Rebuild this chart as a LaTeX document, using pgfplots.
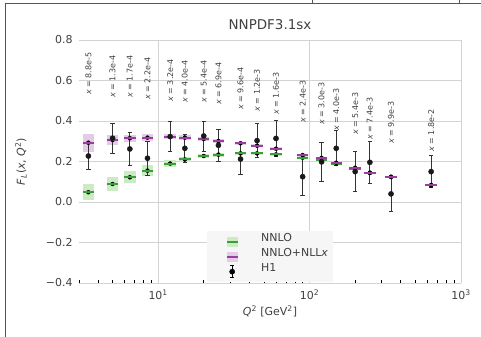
\documentclass[border=0pt]{standalone}
\usepackage{pgfplots}
\usepackage{pgfplotstable}
\pgfplotsset{compat=1.18}
\usepackage{fontspec}
\setmainfont{DejaVu Sans}
\definecolor{lgreen}{HTML}{3A9E3A}
\definecolor{bgreen}{HTML}{CBEBC3}
\definecolor{lpurple}{HTML}{9A3D9F}
\definecolor{bpurple}{HTML}{E3CCE6}
\definecolor{txt}{HTML}{404040}
\definecolor{gridc}{HTML}{D3D3D3}
\definecolor{legbg}{HTML}{F6F6F6}
\definecolor{framec}{HTML}{555555}

\pgfplotstableread{
q    h     he    n     ne    g     ge
3.46 0.227 0.067 0.293 0.044 0.048 0.040
5.0  0.315 0.075 0.306 0.027 0.089 0.035
6.5  0.262 0.080 0.315 0.017 0.122 0.029
8.5  0.216 0.083 0.318 0.016 0.155 0.027
12   0.323 0.075 0.322 0.012 0.190 0.019
15   0.265 0.071 0.318 0.012 0.210 0.014
20   0.326 0.074 0.311 0.010 0.227 0.010
25   0.280 0.078 0.301 0.010 0.234 0.010
35   0.212 0.078 0.290 0.008 0.240 0.008
45   0.303 0.085 0.278 0.008 0.240 0.008
60   0.314 0.089 0.263 0.007 0.235 0.007
90   0.125 0.095 0.232 0.006 0.219 0.006
120  0.198 0.098 0.218 0.006 0.205 0.006
150  0.265 0.086 0.194 0.005 0.188 0.005
200  0.150 0.099 0.169 0.005 0.163 0.005
250  0.196 0.103 0.145 0.004 0.143 0.004
345  0.040 0.088 0.125 0.004 0.123 0.004
635  0.150 0.080 0.084 0.004 0.082 0.004
}\data

\pgfplotsset{bandleg/.style 2 args={legend image code/.code={
  \path[draw=none, fill=none] (0bp,0bp) -- (49bp,0bp);
  \draw[overlay, #1, line width=11bp] (22bp,-5bp) -- (22bp,5bp);
  \draw[overlay, #2, line width=2bp] (16.5bp,0bp) -- (27.5bp,0bp);}}}

\begin{document}
\begin{tikzpicture}
\begin{axis}[
  at={(79bp,54bp)}, anchor=south west,
  scale only axis, width=382bp, height=243bp,
  xmode=log, xmin=3, xmax=1000, ymin=-0.4, ymax=0.8,
  xtick={10,100,1000},
  xticklabels={10\textsuperscript{1},10\textsuperscript{2},10\textsuperscript{3}},
  minor xtick={3,4,5,6,7,8,9,20,30,40,50,60,70,80,90,200,300,400,500,600,700,800,900},
  ytick={-0.4,-0.2,0,0.2,0.4,0.6,0.8},
  yticklabels={−0.4,−0.2,0.0,0.2,0.4,0.6,0.8},
  grid=major, grid style={gridc, line width=0.9bp},
  axis line style={draw=none},
  tick align=inside, xtick pos=bottom,
  major tick length=0bp, minor tick length=3bp,
  xtick style={black, line width=0.8bp},
  ytick style={draw=none},
  tick label style={font=\fontsize{11}{13}\selectfont, text=txt},
  yticklabel style={xshift=-3bp},
  xticklabel style={yshift=-3bp},
  title={NNPDF3.1sx},
  title style={font=\fontsize{13.5}{15}\selectfont, text=txt, at={(axis description cs:0.5,1.064)}, anchor=center, yshift=-6pt},
  xlabel={\textit{Q}\textsuperscript{2} [GeV\textsuperscript{2}]},
  xlabel style={font=\fontsize{11}{13}\selectfont, text=txt, at={(axis description cs:0.5,-0.115)}, anchor=center},
  ylabel={\textit{F}\textsubscript{\textit{L}}(\textit{x}, \textit{Q}\textsuperscript{2})},
  ylabel style={font=\fontsize{11}{13}\selectfont, text=txt, at={(axis description cs:-0.152,0.5)}, anchor=center},
  legend style={at={(axis description cs:0.335,0.214)}, anchor=north west,
    fill=legbg, draw=none, font=\fontsize{11}{13}\selectfont, text=txt,
    inner xsep=3bp, inner ysep=3bp, row sep=0bp,
    nodes={inner ysep=1bp, text height=6bp, text depth=7bp}},
  legend cell align=left,
]
\addlegendimage{bandleg={bgreen}{lgreen}}
\addlegendentry{NNLO}
\addlegendimage{bandleg={bpurple}{lpurple}}
\addlegendentry{NNLO+NLL\textit{x}}
\addlegendimage{legend image code/.code={
  \path[draw=none, fill=none] (0bp,0bp) -- (49bp,0bp);
  \draw[overlay, black, line width=0.9bp] (22bp,-6bp) -- (22bp,6bp);
  \draw[overlay, black, line width=0.9bp] (20bp,-6bp) -- (24bp,-6bp) (20bp,6bp) -- (24bp,6bp);
  \fill[overlay, black] (22bp,0bp) circle (2.6bp);}}
\addlegendentry{H1}

% NNLO band and line
\addplot[forget plot, only marks, mark=none,
  error bars/.cd, y dir=both, y explicit, error mark=none,
  error bar style={line width=11.5bp, color=bgreen}]
  table[x=q, y=g, y error=ge] {\data};
\addplot[forget plot, only marks, mark=-, mark size=5.75bp,
  mark options={line width=2bp, color=lgreen}]
  table[x=q, y=g] {\data};
% NNLO+NLLx band and line
\addplot[forget plot, only marks, mark=none,
  error bars/.cd, y dir=both, y explicit, error mark=none,
  error bar style={line width=11.5bp, color=bpurple}]
  table[x=q, y=n, y error=ne] {\data};
\addplot[forget plot, only marks, mark=-, mark size=5.75bp,
  mark options={line width=2bp, color=lpurple}]
  table[x=q, y=n] {\data};
% H1 data
\addplot[forget plot, only marks, mark=*, mark size=2.6bp, color=black!90,
  error bars/.cd, y dir=both, y explicit,
  error mark options={rotate=90, mark size=2.2bp, line width=0.9bp},
  error bar style={line width=0.9bp, color=black!80}]
  table[x=q, y=h, y error=he] {\data};

\draw[black, line width=1bp] (rel axis cs:0,0) -- (rel axis cs:1,0);

\tikzset{xlab/.style={rotate=90, anchor=west, inner sep=0pt, font=\fontsize{8}{9}\selectfont, text=txt}}
\node[xlab] at (axis cs:3.46,0.528) {\textit{x} = 8.8e-5};
\node[xlab] at (axis cs:5.0,0.514) {\textit{x} = 1.3e-4};
\node[xlab] at (axis cs:6.5,0.514) {\textit{x} = 1.7e-4};
\node[xlab] at (axis cs:8.5,0.504) {\textit{x} = 2.2e-4};
\node[xlab] at (axis cs:12,0.495) {\textit{x} = 3.2e-4};
\node[xlab] at (axis cs:15,0.489) {\textit{x} = 4.0e-4};
\node[xlab] at (axis cs:20,0.489) {\textit{x} = 5.4e-4};
\node[xlab] at (axis cs:25,0.479) {\textit{x} = 6.9e-4};
\node[xlab] at (axis cs:35,0.454) {\textit{x} = 9.6e-4};
\node[xlab] at (axis cs:45,0.446) {\textit{x} = 1.2e-3};
\node[xlab] at (axis cs:60,0.430) {\textit{x} = 1.6e-3};
\node[xlab] at (axis cs:90,0.390) {\textit{x} = 2.4e-3};
\node[xlab] at (axis cs:120,0.380) {\textit{x} = 3.0e-3};
\node[xlab] at (axis cs:150,0.351) {\textit{x} = 4.0e-3};
\node[xlab] at (axis cs:200,0.331) {\textit{x} = 5.4e-3};
\node[xlab] at (axis cs:250,0.306) {\textit{x} = 7.4e-3};
\node[xlab] at (axis cs:345,0.286) {\textit{x} = 9.9e-3};
\node[xlab] at (axis cs:635,0.248) {\textit{x} = 1.8e-2};
\end{axis}
\draw[framec, line width=1bp] (5bp,0bp) -- (5bp,333bp) -- (481bp,333bp);
\draw[framec, line width=1bp] (312bp,333bp) -- (312bp,337bp);
\draw[framec, line width=1bp] (459bp,333bp) -- (459bp,337bp);
\pgfresetboundingbox
\useasboundingbox (0bp,0bp) rectangle (481bp,337bp);
\end{tikzpicture}
\end{document}
